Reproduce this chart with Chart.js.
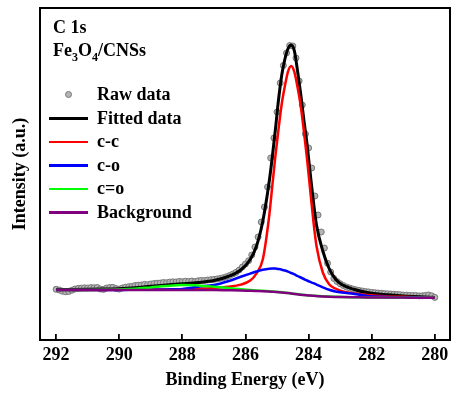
<!DOCTYPE html>
<html lang="en">
<head>
  <meta charset="UTF-8" />
  <title>C 1s XPS - Fe3O4/CNSs</title>
  <script src="https://cdn.jsdelivr.net/npm/chart.js"></script>
  <style>
    body {
      margin: 0;
      background: #fff;
    }
    .wrap {
      position: relative;
      width: 452px;
      height: 403px;
      font-family: 'Liberation Serif', 'Times New Roman', serif;
      font-weight: bold;
      color: #000;
    }
    .sample {
      position: absolute;
      left: 53px;
      top: 16px;
      font-size: 18px;
      line-height: 23.3px;
    }
    .sample sub {
      font-size: 12px;
      line-height: 0;
      vertical-align: baseline;
      position: relative;
      top: 5px;
    }
    #legend {
      position: absolute;
      left: 49px;
      top: 83px;
      margin: 0;
      padding: 0;
      list-style: none;
      font-size: 18px;
    }
    #legend li {
      display: flex;
      align-items: center;
      height: 23.6px;
      line-height: 23.6px;
      white-space: nowrap;
    }
    #legend .mark {
      width: 39px;
      margin-right: 9px;
      display: flex;
      justify-content: center;
      align-items: center;
    }
    #legend .line {
      width: 39px;
      height: 2.6px;
    }
    #legend .dot {
      width: 5px;
      height: 5px;
      border-radius: 50%;
    }
  </style>
</head>
<body>

<div class="wrap">
  <canvas id="xps" width="452" height="403"></canvas>
  <div class="sample">
    <div>C 1s</div>
    <div>Fe<sub>3</sub>O<sub>4</sub>/CNSs</div>
  </div>
  <ul id="legend"></ul>
</div>

<script>
  // raw spectrum, 0.1 eV steps
  const energyRaw = [
    292.0, 291.9, 291.8, 291.7, 291.6, 291.5, 291.4, 291.3, 291.2, 291.1,
    291.0, 290.9, 290.8, 290.7, 290.6, 290.5, 290.4, 290.3, 290.2, 290.1,
    290.0, 289.9, 289.8, 289.7, 289.6, 289.5, 289.4, 289.3, 289.2, 289.1,
    289.0, 288.9, 288.8, 288.7, 288.6, 288.5, 288.4, 288.3, 288.2, 288.1,
    288.0, 287.9, 287.8, 287.7, 287.6, 287.5, 287.4, 287.3, 287.2, 287.1,
    287.0, 286.9, 286.8, 286.7, 286.6, 286.5, 286.4, 286.3, 286.2, 286.1,
    286.0, 285.9, 285.8, 285.7, 285.6, 285.5, 285.4, 285.3, 285.2, 285.1,
    285.0, 284.9, 284.8, 284.7, 284.6, 284.5, 284.4, 284.3, 284.2, 284.1,
    284.0, 283.9, 283.8, 283.7, 283.6, 283.5, 283.4, 283.3, 283.2, 283.1,
    283.0, 282.9, 282.8, 282.7, 282.6, 282.5, 282.4, 282.3, 282.2, 282.1,
    282.0, 281.9, 281.8, 281.7, 281.6, 281.5, 281.4, 281.3, 281.2, 281.1,
    281.0, 280.9, 280.8, 280.7, 280.6, 280.5, 280.4, 280.3, 280.2, 280.1,
    280.0
  ];
  const intensityRaw = [
    49.7, 49.0, 47.8, 47.2, 47.6, 48.8, 50.0, 50.6, 50.9, 51.2,
    51.0, 51.4, 51.2, 51.5, 50.0, 49.6, 51.0, 51.5, 51.6, 50.4,
    49.9, 51.0, 51.8, 52.3, 52.6, 53.4, 53.8, 54.0, 54.6, 54.3,
    55.0, 55.4, 55.8, 56.0, 56.5, 56.3, 56.9, 57.2, 57.0, 57.6,
    57.3, 57.8, 57.5, 58.0, 57.4, 58.2, 58.6, 58.4, 59.0, 59.3,
    59.6, 60.0, 60.6, 61.3, 62.3, 63.5, 65.0, 66.6, 69.0, 72.0,
    75.0, 78.3, 84.0, 92.0, 102, 117, 132, 152, 181, 201,
    227, 256, 273.5, 286, 293.5, 293, 281, 258, 234, 205,
    191, 171, 143, 124, 107, 91, 75.7, 67.0, 60.5, 57.5,
    55.3, 53.5, 52.0, 51.0, 50.0, 49.2, 48.6, 48.0, 47.5, 47.1,
    46.6, 46.3, 46.0, 45.8, 45.4, 45.2, 45.0, 44.8, 44.5, 44.3,
    44.0, 43.9, 43.6, 43.5, 43.4, 43.1, 43.2, 43.6, 44.0, 43.2,
    41.6
  ];

  // fitted envelope, components and background
  const energyFit = [
    292.0, 291.5, 291.0, 290.5, 290.0, 289.5, 289.0, 288.5, 288.0, 287.5,
    287.0, 286.55, 286.15, 285.85, 285.65, 285.45, 285.25, 285.15, 285.05, 284.95,
    284.85, 284.75, 284.65, 284.55, 284.45, 284.35, 284.25, 284.15, 284.05, 283.95,
    283.85, 283.75, 283.55, 283.35, 283.15, 282.95, 282.55, 282.15, 281.5, 281.0,
    280.5, 280.0
  ];
  const fittedData = [
    49.6, 49.6, 49.7, 49.9, 50.3, 51.3, 52.8, 54.0, 55.2, 56.5,
    58.5, 62.5, 69.0, 79.5, 93, 118, 157, 182, 210, 240,
    264, 280, 290.5, 294, 288, 268, 245, 219, 195, 166,
    138, 114, 88, 70.5, 60, 54.5, 49.5, 46.5, 44.2, 43.0,
    42.2, 41.6
  ];
  const peakCC = [
    49.0, 49.0, 49.1, 49.1, 49.2, 49.3, 49.4, 49.5, 49.8, 50.2,
    51.1, 52.3, 54.4, 58.4, 65.7, 79.7, 122.6, 153.1, 183.6, 210.6,
    235.3, 253.2, 267.7, 273.0, 266.9, 251.7, 233.1, 207.8, 180.2, 149.2,
    118.3, 93.0, 66.5, 54.8, 50.5, 47.9, 45.4, 43.9, 42.6, 42.2,
    41.8, 41.6
  ];
  const peakCO = [
    49.0, 49.0, 49.0, 49.1, 49.1, 49.2, 49.3, 49.6, 50.1, 52.3,
    54.0, 57.8, 62.2, 65.4, 67.5, 69.3, 70.3, 70.4, 70.4, 69.9,
    69.3, 68.5, 67.4, 66.0, 64.6, 63.0, 61.5, 60.0, 58.5, 57.1,
    55.8, 54.4, 51.7, 49.2, 47.5, 46.4, 45.0, 43.1, 42.1, 41.7,
    41.4, 41.3
  ];
  const peakCdO = [
    49.0, 49.0, 49.1, 49.3, 49.6, 50.3, 51.6, 53.0, 53.9, 53.6,
    52.3, 50.9, 49.7, 48.9, 48.5, 48.2, 47.8, 47.5, 47.3, 47.0,
    46.7, 46.3, 46.0, 45.6, 45.2, 44.8, 44.4, 44.1, 43.8, 43.5,
    43.3, 43.1, 42.7, 42.4, 42.2, 42.0, 41.8, 41.6, 41.5, 41.4,
    41.3, 41.3
  ];
  const background = [
    49.0, 49.0, 49.0, 49.0, 49.0, 49.0, 49.0, 49.0, 49.0, 49.0,
    48.9, 48.7, 48.5, 48.2, 48.0, 47.8, 47.5, 47.3, 47.1, 46.8,
    46.5, 46.2, 45.9, 45.5, 45.1, 44.7, 44.3, 44.0, 43.7, 43.4,
    43.2, 43.0, 42.6, 42.3, 42.1, 42.0, 41.8, 41.6, 41.5, 41.4,
    41.3, 41.3
  ];

  const seriesNames = ['Raw data', 'Fitted data', 'c-c', 'c-o', 'c=o', 'Background'];
  const energyTicks = [292, 290, 288, 286, 284, 282, 280];

  function pairs(xs, ys) {
    return xs.map((x, i) => ({ x: x, y: ys[i] }));
  }

  function fitLine(label, values, color, width, order) {
    return {
      label: label,
      data: pairs(energyFit, values),
      borderColor: color,
      backgroundColor: color,
      borderWidth: width,
      pointRadius: 0,
      cubicInterpolationMode: 'monotone',
      order: order
    };
  }

  // box around the plot area
  const frame = {
    id: 'frame',
    afterDraw(chart) {
      const { ctx, chartArea } = chart;
      ctx.save();
      ctx.strokeStyle = '#000';
      ctx.lineWidth = 2;
      ctx.strokeRect(chartArea.left, chartArea.top,
        chartArea.right - chartArea.left, chartArea.bottom - chartArea.top);
      ctx.restore();
    }
  };

  const fontFamily = "'Liberation Serif', 'Times New Roman', serif";
  Chart.defaults.font.family = fontFamily;
  Chart.defaults.font.weight = 'bold';
  Chart.defaults.color = '#000';

  const ctx = document.getElementById('xps').getContext('2d');
  const chart = new Chart(ctx, {
    type: 'line',
    data: {
      datasets: [
        {
          label: seriesNames[0],
          data: pairs(energyRaw, intensityRaw),
          showLine: false,
          pointRadius: 3,
          pointBorderWidth: 1,
          pointBackgroundColor: '#b5b5b5',
          pointBorderColor: '#777777',
          backgroundColor: '#b5b5b5',
          borderColor: '#777777',
          order: 6
        },
        fitLine(seriesNames[1], fittedData, '#000000', 3, 5),
        fitLine(seriesNames[2], peakCC, '#ff0000', 2.5, 4),
        fitLine(seriesNames[3], peakCO, '#0000ff', 2.5, 3),
        fitLine(seriesNames[4], peakCdO, '#00ff00', 2.5, 2),
        fitLine(seriesNames[5], background, '#800080', 2.5, 1)
      ]
    },
    options: {
      responsive: false,
      animation: false,
      devicePixelRatio: 1,
      layout: {
        autoPadding: false,
        padding: { top: 8, right: 2, left: 0, bottom: 0 }
      },
      plugins: {
        legend: { display: false },
        tooltip: { enabled: false }
      },
      scales: {
        x: {
          type: 'linear',
          reverse: true,
          min: 279.52,
          max: 292.51,
          afterBuildTicks: (scale) => {
            scale.ticks = energyTicks.map(v => ({ value: v }));
          },
          afterFit: (scale) => {
            scale.height = 63;
            scale.paddingLeft = 0;
            scale.paddingRight = 0;
          },
          ticks: {
            padding: 11,
            color: '#000',
            font: { size: 18, weight: 'bold' }
          },
          grid: {
            drawOnChartArea: false,
            drawTicks: true,
            tickLength: -6,
            color: '#000',
            lineWidth: 1.8
          },
          border: { display: false },
          title: {
            display: true,
            text: 'Binding Energy (eV)',
            color: '#000',
            font: { size: 18, weight: 'bold' },
            padding: { top: 0, bottom: 12 }
          }
        },
        y: {
          min: -1,
          max: 331,
          ticks: { display: false },
          grid: { display: false },
          border: { display: false },
          afterFit: (scale) => { scale.width = 40; },
          title: {
            display: true,
            text: 'Intensity (a.u.)',
            color: '#000',
            font: { size: 18, weight: 'bold' },
            padding: { top: 10, bottom: 0 }
          }
        }
      }
    },
    plugins: [frame]
  });

  // legend list built from the datasets
  const legendList = document.getElementById('legend');
  chart.data.datasets.forEach(ds => {
    const li = document.createElement('li');
    const mark = document.createElement('span');
    mark.className = 'mark';
    const sw = document.createElement('span');
    if (ds.showLine === false) {
      sw.className = 'dot';
      sw.style.background = ds.pointBackgroundColor;
      sw.style.border = '1px solid ' + ds.pointBorderColor;
    } else {
      sw.className = 'line';
      sw.style.background = ds.borderColor;
    }
    mark.appendChild(sw);
    li.appendChild(mark);
    li.appendChild(document.createTextNode(ds.label));
    legendList.appendChild(li);
  });
</script>

</body>
</html>
